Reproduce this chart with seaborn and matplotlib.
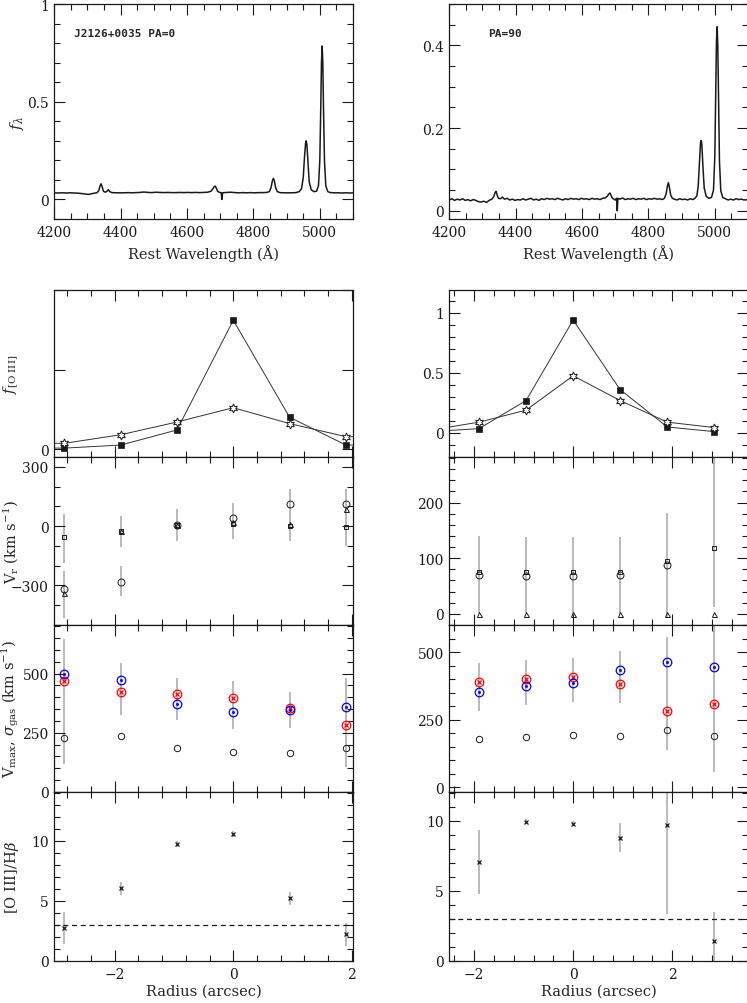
import numpy as np
import matplotlib
matplotlib.use("Agg")
import matplotlib.pyplot as plt
import seaborn as sns
from matplotlib.ticker import MultipleLocator, FuncFormatter, NullFormatter

sns.set_theme(style="ticks")
plt.rcParams['font.family'] = ['DejaVu Serif']
plt.rcParams['mathtext.fontset'] = 'dejavuserif'
plt.rcParams['axes.linewidth'] = 0.9

# ---------------- spectra ----------------
wl_a = [4200, 4212, 4224, 4236, 4248, 4260, 4272, 4284, 4296, 4304, 4312, 4320, 4328, 4334, 4338, 4341,
        4344, 4348, 4354, 4360, 4363, 4367, 4374, 4386, 4398, 4410, 4422, 4434, 4446, 4458, 4470, 4482,
        4494, 4506, 4518, 4530, 4542, 4554, 4566, 4578, 4590, 4602, 4614, 4626, 4638, 4650, 4662, 4672,
        4678, 4682, 4685, 4688, 4692, 4698, 4703, 4705, 4707, 4712, 4720, 4732, 4744, 4756, 4768, 4780,
        4792, 4804, 4816, 4828, 4840, 4848, 4853, 4857, 4860, 4863, 4867, 4872, 4880, 4892, 4904, 4916,
        4928, 4938, 4945, 4950, 4954, 4957, 4959, 4961, 4964, 4968, 4974, 4982, 4990, 4996, 5000, 5003,
        5005, 5007, 5009, 5011, 5014, 5018, 5024, 5032, 5044, 5056, 5068, 5080, 5092, 5100]
flux_a = [.034, .033, .034, .033, .034, .033, .032, .030, .027, .026, .029, .032, .034, .045, .070, .080,
          .066, .042, .037, .044, .050, .040, .035, .034, .034, .034, .035, .034, .035, .036, .038, .036,
          .035, .037, .036, .035, .036, .035, .035, .036, .035, .036, .035, .036, .035, .036, .037, .042,
          .055, .066, .068, .058, .042, .036, .034, .000, .034, .035, .036, .037, .035, .034, .035, .034,
          .035, .034, .035, .035, .036, .040, .060, .095, .108, .095, .060, .040, .035, .034, .034, .034,
          .035, .040, .055, .110, .220, .285, .300, .280, .200, .090, .050, .040, .042, .070, .200, .480,
          .700, .785, .700, .480, .200, .070, .040, .035, .034, .034, .033, .034, .033, .034]

wl_b = [4200, 4208, 4216, 4224, 4232, 4240, 4248, 4256, 4264, 4272, 4280, 4288, 4296, 4304, 4312, 4320,
        4328, 4334, 4338, 4341, 4344, 4348, 4354, 4360, 4366, 4374, 4382, 4390, 4398, 4406, 4414, 4422,
        4430, 4438, 4446, 4454, 4462, 4470, 4478, 4486, 4494, 4502, 4510, 4518, 4526, 4534, 4542, 4550,
        4558, 4566, 4574, 4582, 4590, 4598, 4606, 4614, 4622, 4630, 4638, 4646, 4654, 4662, 4670, 4676,
        4680, 4684, 4687, 4690, 4694, 4700, 4704, 4706, 4708, 4714, 4722, 4730, 4738, 4746, 4754, 4762,
        4770, 4778, 4786, 4794, 4802, 4810, 4818, 4826, 4834, 4842, 4848, 4853, 4857, 4860, 4863, 4867,
        4872, 4878, 4886, 4894, 4902, 4910, 4918, 4926, 4934, 4940, 4946, 4950, 4954, 4957, 4959, 4961,
        4964, 4968, 4974, 4982, 4990, 4996, 5000, 5003, 5005, 5007, 5009, 5011, 5014, 5018, 5024, 5032,
        5040, 5048, 5056, 5064, 5072, 5080, 5088, 5100]
flux_b = [.026, .029, .025, .028, .026, .029, .025, .027, .024, .027, .025, .022, .021, .023, .020, .025,
          .028, .034, .044, .047, .038, .030, .029, .033, .028, .030, .026, .028, .025, .027, .026, .029,
          .026, .028, .030, .026, .028, .025, .029, .027, .030, .028, .029, .027, .030, .028, .026, .029,
          .027, .030, .028, .029, .027, .030, .028, .029, .027, .030, .028, .029, .027, .030, .031, .035,
          .040, .043, .038, .032, .029, .026, .030, .000, .030, .028, .031, .027, .029, .028, .030, .027,
          .029, .028, .030, .027, .029, .028, .030, .028, .029, .027, .030, .040, .058, .068, .058, .038,
          .030, .028, .026, .029, .027, .028, .026, .029, .027, .030, .036, .060, .120, .165, .170, .160,
          .110, .055, .035, .030, .032, .050, .130, .300, .410, .445, .400, .280, .120, .048, .032, .029,
          .026, .028, .026, .029, .027, .028, .026, .027]

# ---------------- radial profiles: PA=0 (a) and PA=90 (b) ----------------
r_a = [-2.85, -1.90, -0.95, 0.0, 0.95, 1.90]
r_b = [-1.90, -0.95, 0.0, 0.95, 1.90, 2.85]

r_fa = [-3.80, -2.85, -1.90, -0.95, 0.0, 0.95, 1.90, 2.85]
fsq_a = [0.006, 0.006, 0.025, 0.12, 0.81, 0.20, 0.025, 0.025]
fst_a = [0.036, 0.036, 0.09, 0.17, 0.26, 0.16, 0.078, 0.078]
r_fb = [-2.85, -1.90, -0.95, 0.0, 0.95, 1.90, 2.85]
fsq_b = [0.012, 0.036, 0.27, 0.94, 0.36, 0.05, 0.011]
fst_b = [0.026, 0.09, 0.19, 0.476, 0.27, 0.09, 0.045]

vr_circ_a = [-316, -281, 5, 42, 112, 112]
vr_sq_a = [-56, -26, 5, 13, 0, -5]
vr_tri_a = [-340, -26, 7, 19, 10, 87]
vr_lo_a = [-184, -104, -73, -65, -73, -99]
vr_hi_a = [63, 54, 88, 119, 190, 190]
vr2_r_a = [-2.85, -1.90]
vr2_lo_a = [-464, -354]
vr2_hi_a = [-226, -201]

vr_circ_b = [70, 68, 68, 69, 88, np.nan]
vr_sq_b = [76, 76, 76, 75, 95, 119]
vr_tri_b = [0, 0, 0, 0, 0, 0]
vr_lo_b = [2, 2, -1, -1, -7, 13]
vr_hi_b = [140, 139, 139, 139, 181, 300]

vm_blue_a = [498, 473, 372, 336, 345, 357]
vm_red_a = [469, 424, 414, 397, 353, 281]
vm_blk_a = [226, 237, 184, 167, 165, 186]
vm_lo_a = [120, 323, 303, 267, 272, 106]
vm_hi_a = [648, 546, 483, 469, 422, 483]

vm_blue_b = [353, 375, 385, 434, 465, 446]
vm_red_b = [389, 402, 410, 381, 284, 310]
vm_blk_b = [178, 187, 194, 191, 213, 191]
vm_lo_b = [281, 305, 315, 311, 139, 56]
vm_hi_b = [460, 473, 479, 504, 556, 620]

ratio_a = [2.72, 6.03, 9.72, 10.58, 5.22, 2.22]
ratio_lo_a = [1.39, 5.47, 9.50, 10.35, 4.67, 1.25]
ratio_hi_a = [4.08, 6.53, 9.95, 10.80, 5.70, 3.20]
ratio_b = [7.07, 9.93, 9.79, 8.79, 9.69, 1.43]
ratio_lo_b = [4.81, 9.75, 9.60, 7.79, 3.33, -0.5]
ratio_hi_b = [9.34, 10.10, 9.95, 9.81, 13.0, 3.50]

GREY = '#b4b4b4'
W, H = 747, 1004
fig = plt.figure(figsize=(W / 100, H / 100), dpi=100)


def add_ax(x0, x1, y0, y1):
    return fig.add_axes([x0 / W, (H - y1) / H, (x1 - x0) / W, (y1 - y0) / H])


def style(ax, xmaj, xmin, ymaj, ymin):
    ax.xaxis.set_major_locator(MultipleLocator(xmaj))
    ax.xaxis.set_minor_locator(MultipleLocator(xmin))
    ax.yaxis.set_major_locator(MultipleLocator(ymaj))
    if ymin:
        ax.yaxis.set_minor_locator(MultipleLocator(ymin))
    ax.tick_params(which='both', direction='in', top=True, right=True,
                   color='k', labelsize=10, labelcolor='k', width=0.8, pad=4)
    ax.tick_params(which='major', length=8)
    ax.tick_params(which='minor', length=4)
    for s in ax.spines.values():
        s.set_color('k')
        s.set_linewidth(0.9)
    ax.set_xlabel('')
    ax.set_ylabel('')


def draw_line(ax, x, y, **kw):
    sns.lineplot(x=x, y=y, ax=ax, estimator=None, sort=False, **kw)


XL_A, XR_A = 54.3, 353
XL_B, XR_B = 449.3, 748

# spectra
for x0, x1, wl, fl, ylim, ymaj, ymin, txt, tx in [
        (XL_A, XR_A, wl_a, flux_a, (-0.1, 1.0), 0.5, 0.1, 'J2126+0035 PA=0', 0.067),
        (XL_B, XR_B, wl_b, flux_b, (-0.02, 0.5), 0.2, 0.05, 'PA=90', 0.13)]:
    ax = add_ax(x0, x1, 5, 220)
    draw_line(ax, wl, fl, color='k', lw=1.1)
    ax.set_xlim(4200, 5100)
    ax.set_ylim(*ylim)
    style(ax, 200, 50, ymaj, ymin)
    ax.yaxis.set_major_formatter(FuncFormatter(lambda v, p: f'{v:g}'))
    ax.set_xlabel('Rest Wavelength (Å)', fontsize=10.5, labelpad=4)
    ax.text(tx, 0.865, txt, transform=ax.transAxes, fontsize=8, fontweight='bold',
            family='DejaVu Sans Mono', va='center')
    if x0 == XL_A:
        ax.set_ylabel(r'$f_\lambda$', fontsize=11)
        ax.yaxis.set_label_coords(-0.095, 0.45)

rows = [(291, 458), (458, 626), (626, 793), (793, 962)]

for col in ['a', 'b']:
    if col == 'a':
        x0, x1, xlim, r = XL_A, XR_A, (-3.02, 2.02), r_a
    else:
        x0, x1, xlim, r = XL_B, XR_B, (-2.5, 3.53), r_b
    axs = [add_ax(x0, x1, y0, y1) for y0, y1 in rows]

    # --- [O III] flux profile
    ax = axs[0]
    rf, fsq, fst = (r_fa, fsq_a, fst_a) if col == 'a' else (r_fb, fsq_b, fst_b)
    draw_line(ax, rf, fsq, color='#333333', lw=0.7, marker='s', ms=4.2,
              mfc='k', mec='k', mew=0.5)
    draw_line(ax, rf, fst, color='#333333', lw=0.7, marker=(6, 1, 0), ms=6.5,
              mfc='white', mec='k', mew=0.7)
    if col == 'a':
        ax.set_ylim(-0.05, 1.0)
        style(ax, 2, 0.4, 0.5, None)
        ax.yaxis.set_major_formatter(FuncFormatter(lambda v, p: '0' if abs(v) < 1e-9 else ''))
    else:
        ax.set_ylim(-0.2, 1.19)
        style(ax, 2, 0.4, 0.5, 0.1)
        ax.yaxis.set_major_formatter(FuncFormatter(lambda v, p: f'{v:g}'))

    # --- radial velocity
    ax = axs[1]
    if col == 'a':
        ax.vlines(r, vr_lo_a, vr_hi_a, colors=GREY, lw=1.3, zorder=0)
        ax.vlines(vr2_r_a, vr2_lo_a, vr2_hi_a, colors=GREY, lw=1.3, zorder=0)
        vc, vs, vt = vr_circ_a, vr_sq_a, vr_tri_a
    else:
        ax.vlines(r, vr_lo_b, vr_hi_b, colors=GREY, lw=1.3, zorder=0)
        vc, vs, vt = vr_circ_b, vr_sq_b, vr_tri_b
    draw_line(ax, r, vc, linestyle='', marker='o', ms=5, mfc='none', mec='k', mew=0.7)
    draw_line(ax, r, vs, linestyle='', marker='s', ms=3.2, mfc='none', mec='k', mew=0.7)
    draw_line(ax, r, vt, linestyle='', marker='^', ms=3.6, mfc='none', mec='k', mew=0.7)
    if col == 'a':
        ax.set_ylim(-500, 350)
        style(ax, 2, 0.4, 300, 100)
    else:
        ax.set_ylim(-20, 282)
        style(ax, 2, 0.4, 100, 20)
    ax.yaxis.set_major_formatter(FuncFormatter(lambda v, p: f'{v:g}'.replace('-', '\u2212')))

    # --- velocity width
    ax = axs[2]
    if col == 'a':
        ax.vlines(r, vm_lo_a, vm_hi_a, colors=GREY, lw=1.3, zorder=0)
        vb, vrd, vk = vm_blue_a, vm_red_a, vm_blk_a
    else:
        ax.vlines(r, vm_lo_b, vm_hi_b, colors=GREY, lw=1.3, zorder=0)
        vb, vrd, vk = vm_blue_b, vm_red_b, vm_blk_b
    draw_line(ax, r, vk, linestyle='', marker='o', ms=4.6, mfc='none', mec='k', mew=0.7)
    draw_line(ax, r, vrd, linestyle='', marker='o', ms=6.2, mfc='none', mec='red', mew=0.9)
    draw_line(ax, r, vrd, linestyle='', marker='x', ms=3.4, mec='red', mew=0.9)
    draw_line(ax, r, vb, linestyle='', marker='o', ms=6.2, mfc='none', mec='blue', mew=0.9)
    draw_line(ax, r, vb, linestyle='', marker='o', ms=1.6, mfc='blue', mec='blue', mew=0.5)
    if col == 'a':
        ax.set_ylim(0, 705)
    else:
        ax.set_ylim(-17, 601)
    style(ax, 2, 0.4, 250, 50)
    ax.yaxis.set_major_formatter(FuncFormatter(lambda v, p: f'{v:g}'))

    # --- line ratio
    ax = axs[3]
    if col == 'a':
        ax.vlines(r, ratio_lo_a, ratio_hi_a, colors=GREY, lw=1.3, zorder=0)
        rt = ratio_a
        ax.set_ylim(0, 14.05)
    else:
        ax.vlines(r, ratio_lo_b, ratio_hi_b, colors=GREY, lw=1.3, zorder=0)
        rt = ratio_b
        ax.set_ylim(0, 12.05)
    ax.axhline(3, color='k', lw=0.9, ls=(0, (4, 3)))
    draw_line(ax, r, rt, linestyle='', marker='x', ms=3.2, mec='k', mew=0.9)
    style(ax, 2, 0.4, 5, 1)
    ax.yaxis.set_major_formatter(FuncFormatter(lambda v, p: f'{v:g}'))
    ax.xaxis.set_major_formatter(FuncFormatter(lambda v, p: f'{v:g}'.replace('-', '\u2212')))
    ax.set_xlabel('Radius (arcsec)', fontsize=10.5, labelpad=2)

    for a in axs:
        a.set_xlim(*xlim)
    for a in axs[:3]:
        a.xaxis.set_major_formatter(NullFormatter())

    if col == 'a':
        labels = [r'$f_{\mathrm{[O\ III]}}$', r'V$_{\rm r}$ (km s$^{-1}$)',
                  r'V$_{\rm max}$, $\sigma_{\rm gas}$ (km s$^{-1}$)', r'[O III]/H$\beta$']
        for a, lab in zip(axs, labels):
            a.set_ylabel(lab, fontsize=10.5)
            a.yaxis.set_label_coords(-0.11, 0.5)

fig.savefig('out.png', dpi=100)
